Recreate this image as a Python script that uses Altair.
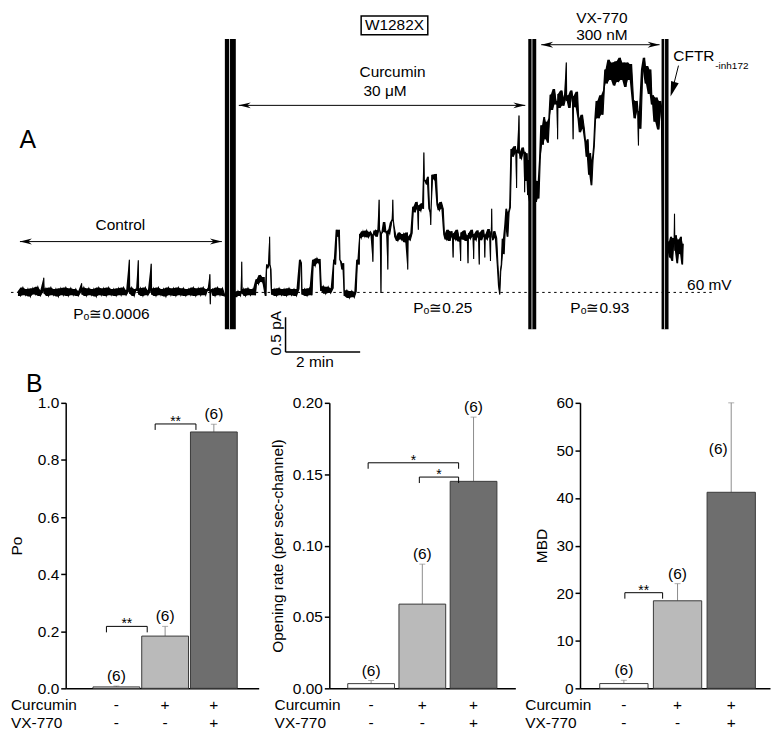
import altair as alt
import pandas as pd

FONT = "Liberation Sans"

# ---------------- Panel A: single-channel recording (time in s, current in pA) ----------------
trace_control = [
    (0, 0.02), (4, -0.05), (8, 0.07), (12, -0.04), (16, 0.05), (20, -0.06), (24, 0.06), (28, -0.03),
    (32, 0.08), (36, -0.05), (41, 0.03), (41.6, 0.21), (42.2, -0.02), (45, 0.06), (49, -0.05), (53, 0.07),
    (57, -0.04), (61, 0.05), (65, -0.06), (69, 0.06), (73, -0.04), (77, 0.07), (81, -0.05), (85, 0.06),
    (89, -0.04), (93, 0.05), (97, -0.05), (101.8, 0.02), (102.4, 0.13), (103, -0.03), (106, 0.07),
    (110, -0.05), (114, 0.06), (118, -0.04), (122, 0.05), (126, -0.06), (130, 0.07), (134, -0.04),
    (138, 0.06), (142, -0.05), (146, 0.07), (150, -0.04), (154, 0.05), (158, -0.05), (162, 0.06),
    (166, -0.04), (170, 0.07), (174, -0.04), (178.6, 0.03), (179.2, 0.47), (179.8, -0.02), (183, 0.07),
    (187, -0.05), (190, 0.05), (193, 0.02), (193.6, 0.46), (194.2, -0.03), (197, 0.06), (201, -0.05),
    (205, 0.07), (209, -0.04), (213.8, 0.03), (214.4, 0.41), (215, -0.03), (218, 0.06), (222, -0.05),
    (226, 0.07), (230, -0.04), (234, 0.05), (238, -0.06), (242, 0.07), (246, -0.04), (250, 0.06),
    (254, -0.05), (258, 0.07), (262, -0.04), (266, 0.06), (270, -0.05), (274, 0.05), (278, -0.04),
    (282, 0.07), (286, -0.05), (290, 0.06), (294, -0.04), (298, 0.07), (302, -0.04), (305, 0.05),
    (308.2, 0.02), (308.8, 0.26), (309.4, -0.17), (310, 0.02), (313, 0.05), (317, -0.05), (321, 0.07),
    (325, -0.04), (329, 0.06), (333, -0.05),
]
trace_curcumin = [
    (352, -0.06), (354, 0.02), (358, -0.05), (359.4, 0.02), (360, 0.44), (360.6, -0.02), (363, 0.05),
    (366, -0.05), (370, 0.06), (374, -0.04), (378, 0.05), (382, -0.04), (384, 0.19), (387, 0.12),
    (390, 0.25), (393, 0.15), (396, 0.22), (397, 0.0), (399, -0.05), (400, 0.40), (402, 0.35),
    (404.2, 0.40), (404.8, 0.80), (405.4, 0.40), (407, 0.33), (408, -0.03), (412, 0.05), (416, -0.05),
    (420, 0.06), (424, -0.04), (428, 0.05), (432, -0.05), (436, 0.06), (440, -0.04), (444, 0.05),
    (448, -0.05), (452, 0.05), (454, 0.47), (456, 0.42), (457, -0.03), (461, 0.05), (465, -0.05),
    (469, 0.06), (473, -0.04), (475, 0.47), (478, 0.38), (481, 0.49), (484, 0.42), (486, 0.48),
    (488, 0.02), (491, 0.09), (495, -0.02), (499, 0.08), (503, -0.01), (507, 0.06), (508, 0.47),
    (511, 0.40), (513, 0.90), (515, 0.80), (517, 0.90), (518, 0.47), (520, 0.44), (522, 0.33),
    (524, 0.42), (525, -0.05), (529, 0.03), (533, -0.08), (537, 0.02), (541, -0.07), (544, 0.01),
    (546, 0.47), (549, 0.40), (549.5, 0.84), (552, 0.78), (555, 0.88), (558, 0.80), (561, 0.89),
    (564, 0.79), (567, 0.87), (570.4, 0.82), (571, 0.44), (571.6, 0.84), (575, 0.89), (578, 0.80),
    (580.4, 0.90), (581, 1.33), (581.6, 0.90), (583.4, 0.85), (584, -0.01), (584.6, 0.84), (587, 0.87),
    (590, 1.01), (592, 0.86), (594.4, 0.88), (595, 0.33), (595.6, 0.90), (598, 0.84), (601, 1.00),
    (602.4, 1.05), (603, 1.33), (603.6, 1.05), (605, 0.95), (608, 0.80), (611, 0.74), (614, 0.86),
    (617, 0.76), (620, 0.84), (623, 0.72), (626.4, 0.86), (627, 0.33), (627.6, 0.80), (631, 0.75),
    (634, 0.85), (636, 1.23), (639, 1.15), (642, 1.30), (643.4, 1.20), (644, 0.90), (644.6, 1.25),
    (648, 1.17), (650, 1.28), (652.4, 1.20), (653, 2.01), (653.6, 1.60), (656, 1.61), (658, 1.55),
    (660, 1.66), (662, 1.20), (663.4, 1.15), (664, 0.97), (664.6, 1.22), (667, 1.69), (670, 1.62),
    (673, 1.70), (675, 1.26), (678, 1.18), (681, 1.30), (684, 1.20), (686, 0.83), (689, 0.76),
    (692, 0.90), (695, 0.74), (698, 0.88), (699.4, 0.80), (700, 0.50), (700.6, 0.85), (704, 0.76),
    (707, 0.90), (710, 0.73), (711.4, 0.80), (712, 0.45), (712.6, 0.86), (716, 0.76), (719, 0.89),
    (722, 0.74), (723.4, 0.82), (724, 0.42), (724.6, 0.85), (728, 0.77), (731, 0.90), (732.4, 0.80),
    (733, 0.48), (733.6, 0.84), (737, 0.75), (740, 0.89), (741.4, 0.80), (742, 0.40), (742.6, 0.86),
    (746, 0.75), (749, 0.90), (750.4, 0.80), (751, 0.50), (751.6, 0.83), (755, 0.76), (758, 0.91),
    (759.4, 0.80), (760, 0.45), (760.6, 0.86), (761.4, 0.85), (762, 1.20), (762.6, 0.80), (764, 0.75),
    (767, 0.88), (770, 0.78), (772, 0.40), (774, 0.10), (775, -0.03), (776.5, 0.30), (778, 0.40),
    (780, 0.77), (782, 0.55), (784, 0.95), (786, 1.20), (788, 0.80), (790, 1.15), (792, 1.22),
    (794, 2.06), (797, 1.95), (800, 2.10), (801.4, 2.00), (802, 1.50), (802.6, 2.05), (805.4, 2.00),
    (806, 2.54), (806.6, 2.00), (810, 1.92), (813, 2.08), (814.4, 2.00), (815, 1.44), (815.6, 2.02),
    (818, 1.60), (819, 2.00), (820, 1.40), (822, 1.90),
]
trace_vx770 = [
    (834, 1.30), (836, 1.60), (838, 1.35), (840, 1.90), (843, 2.40), (845, 2.12), (847, 2.52),
    (849, 2.20), (851, 2.45), (853, 2.15), (855, 2.50), (857, 2.84), (860, 2.62), (863, 2.92),
    (866, 2.70), (867.4, 2.75), (868, 2.20), (868.6, 2.85), (872, 2.65), (875, 2.90), (878, 2.68),
    (881.4, 2.80), (882, 3.30), (882.6, 2.75), (885, 2.83), (888, 2.65), (891, 2.90), (892.4, 2.80),
    (893, 2.20), (893.6, 2.82), (897, 2.66), (900, 2.88), (902, 2.49), (905, 2.30), (908, 2.55),
    (911, 2.35), (913, 2.16), (915, 1.95), (917, 2.20), (919, 1.69), (921, 2.00), (923, 1.54),
    (925, 1.90), (927, 2.10), (929, 2.49), (932, 2.75), (935, 2.50), (938, 2.83), (941, 2.55),
    (943, 2.90), (945, 3.20), (948, 3.00), (951, 3.34), (954, 3.05), (957, 3.30), (960, 2.97),
    (963, 3.32), (966, 3.02), (969, 3.37), (972, 3.05), (975, 3.30), (978, 2.95), (981, 3.30),
    (984, 3.05), (987, 3.28), (990, 2.77), (993, 2.50), (996, 2.75), (997.4, 2.60), (998, 2.11),
    (998.6, 2.60), (1002, 2.35), (1005, 3.20), (1008, 3.37), (1010, 3.00), (1013, 3.25), (1016, 2.85),
    (1018, 3.20), (1020, 2.70), (1022, 2.83), (1025, 2.45), (1028, 2.80), (1031, 2.34), (1034, 2.75),
    (1036, 2.60),
]
trace_inhibitor = [
    (1045, 0.60), (1047, 0.73), (1049, 0.50), (1051, 0.80), (1053, 0.45), (1055, 0.78), (1055.4, 0.70),
    (1056, 1.13), (1056.6, 0.60), (1059, 0.82), (1061, 0.42), (1063, 0.76), (1065, 0.55), (1067, 0.80),
    (1069, 0.40), (1070, 0.70),
]

# solution-exchange artefacts (time span, current span)
artifact_start = [332.8, 820.8, 1035.2]
artifact_end = [350.4, 833.6, 1046.4]
artifact_gap = [340.3, 826.7, 1040.0]
artifact_low = [-0.53, -0.53, -0.53]
artifact_high = [3.64, 3.64, 3.64]

# double-headed arrows (Control, Curcumin, VX-770)
arrow_from = [3.2, 355.2, 841.6]
arrow_to = [328.0, 816.0, 1032.0]
arrow_level = [0.73, 2.686, 3.557]

# annotation texts of panel A
ann_text = ["Control", "Curcumin", "30 \u03bcM", "W1282X", "VX-770", "300 nM", "CFTR",
            "P\u2092\u22450.0006", "P\u2092\u22450.25", "P\u2092\u22450.93", "60 mV", "2 min"]
ann_t = [164.8, 602.4, 590.4, 605.6, 939.2, 939.2, 1087.2, 150.4, 683.2, 936.0, 1112.0, 477.6]
ann_i = [0.971, 3.171, 2.893, 3.836, 3.936, 3.70, 3.393, -0.314, -0.229, -0.229, 0.107, -1.0]

box_t = [552.0, 659.2]
box_i = [3.70, 3.971]

scalebar_t = 430.4
scalebar_i = -0.857
scalebar_dt = 120.0   # 2 min
scalebar_di = 0.5     # 0.5 pA

baseline_t = [-11.2, 1116.8]
cftr_arrow_t = [1062.4, 1051.5]
cftr_arrow_i = [3.257, 2.87]
cftr_tip = (1049.6, 2.814)

# ---------------- Panel B data ----------------
groups = ["control", "curcumin", "curcumin_vx770"]
curcumin_row = ["-", "+", "+"]
vx770_row = ["-", "-", "+"]
n_cells = [6, 6, 6]
bar_colors = ["#ffffff", "#bababa", "#6e6e6e"]

po_mean = [0.005, 0.183, 0.898]
po_err = [0.008, 0.217, 0.925]
rate_mean = [0.0033, 0.059, 0.145]
rate_err = [0.0055, 0.087, 0.190]
mbd_mean = [1.0, 18.4, 41.2]
mbd_err = [1.7, 22.0, 60.0]

brackets_po = [("control", "curcumin", 0.217, "**"), ("curcumin", "curcumin_vx770", 0.926, "**")]
brackets_rate = [("control", "curcumin_vx770", 0.158, "*"), ("curcumin", "curcumin_vx770", 0.148, "*")]
brackets_mbd = [("control", "curcumin", 20.1, "**")]

# ================= Panel A chart =================
WA, HA = 708, 360
XS = alt.Scale(domain=[76.8, 1209.6], nice=False, zero=False)
YS = alt.Scale(domain=[-1.1, 4.0429], nice=False, zero=False)


def ax(f):
    return alt.X(f"{f}:Q", scale=XS, axis=None)


def ay(f):
    return alt.Y(f"{f}:Q", scale=YS, axis=None)


trace_df = pd.DataFrame(trace_control + trace_curcumin + trace_vx770 + trace_inhibitor, columns=["t", "i"])
base_df = pd.DataFrame({"t": [baseline_t[0]], "t2": [baseline_t[1]], "i": [0.0]})
art_df = pd.DataFrame({"t": artifact_start, "t2": artifact_end, "g": artifact_gap,
                       "lo": artifact_low, "hi": artifact_high})
arr_df = pd.DataFrame({"a": arrow_from, "b": arrow_to, "i": arrow_level})
ann_df = pd.DataFrame({"t": ann_t, "i": ann_i, "txt": ann_text})
box_df = pd.DataFrame({"t": [box_t[0]], "t2": [box_t[1]], "i": [box_i[0]], "i2": [box_i[1]]})
sb_df = pd.DataFrame({"t": [scalebar_t], "t2": [scalebar_t + scalebar_dt],
                      "i": [scalebar_i], "i2": [scalebar_i + scalebar_di]})
cf_df = pd.DataFrame({"t": [cftr_arrow_t[0]], "t2": [cftr_arrow_t[1]],
                      "i": [cftr_arrow_i[0]], "i2": [cftr_arrow_i[1]]})
tip_df = pd.DataFrame({"t": [cftr_tip[0]], "i": [cftr_tip[1]]})

LEFT_HEAD = "M0,0L2,-0.5L1.4,0L2,0.5Z"
RIGHT_HEAD = "M0,0L-2,-0.5L-1.4,0L-2,0.5Z"
FAT_HEAD = "M0,0L3,-0.8L3,0.8Z"

txt_kw = dict(font=FONT, fontSize=15.5, color="black", align="center", baseline="middle")

trace_base = alt.Chart(trace_df)
# noise envelope: min / max of each pair of consecutive samples
trace_band = trace_base.transform_window(
    lo="min(i)", hi="max(i)", frame=[0, 1], sort=[alt.SortField("t")]
).mark_area(color="black", opacity=1).encode(x=ax("t"), y=ay("lo"), y2="hi:Q")

panel_a = alt.layer(
    alt.Chart(base_df).mark_rule(color="black", strokeWidth=1, strokeDash=[2.5, 3.5]).encode(
        x=ax("t"), x2="t2:Q", y=ay("i")),
    trace_band,
    trace_base.mark_line(color="black", strokeWidth=1.1).encode(x=ax("t"), y=ay("i")),
    alt.Chart(art_df).mark_rect(color="black").encode(x=ax("t"), x2="t2:Q", y=ay("lo"), y2="hi:Q"),
    alt.Chart(art_df).mark_rule(color="white", strokeWidth=0.8).encode(x=ax("g"), y=ay("lo"), y2="hi:Q"),
    alt.Chart(arr_df).mark_rule(color="black", strokeWidth=1).encode(x=ax("a"), x2="b:Q", y=ay("i")),
    alt.Chart(arr_df).mark_point(shape=LEFT_HEAD, filled=True, size=144, color="black",
                                 opacity=1, strokeWidth=0).encode(x=ax("a"), y=ay("i")),
    alt.Chart(arr_df).mark_point(shape=RIGHT_HEAD, filled=True, size=144, color="black",
                                 opacity=1, strokeWidth=0).encode(x=ax("b"), y=ay("i")),
    alt.Chart(box_df).mark_rect(fill="white", stroke="black", strokeWidth=1.5).encode(
        x=ax("t"), x2="t2:Q", y=ay("i"), y2="i2:Q"),
    alt.Chart(sb_df).mark_rule(color="black", strokeWidth=1.5).encode(x=ax("t"), y=ay("i"), y2="i2:Q"),
    alt.Chart(sb_df).mark_rule(color="black", strokeWidth=1.5).encode(x=ax("t"), x2="t2:Q", y=ay("i")),
    alt.Chart(cf_df).mark_rule(color="black", strokeWidth=1).encode(
        x=ax("t"), x2="t2:Q", y=ay("i"), y2="i2:Q"),
    alt.Chart(tip_df).mark_point(shape=FAT_HEAD, filled=True, size=100, angle=287, color="black",
                                 opacity=1, strokeWidth=0).encode(x=ax("t"), y=ay("i")),
    alt.Chart(ann_df).mark_text(**txt_kw).encode(x=ax("t"), y=ay("i"), text="txt:N"),
    alt.Chart(pd.DataFrame({"t": [1121.6], "i": [3.257], "txt": ["-inh172"]})).mark_text(
        font=FONT, fontSize=10, color="black", align="left", baseline="middle").encode(
        x=ax("t"), y=ay("i"), text="txt:N"),
    alt.Chart(pd.DataFrame({"t": [414.4], "i": [-0.586], "txt": ["0.5 pA"]})).mark_text(
        angle=270, **txt_kw).encode(x=ax("t"), y=ay("i"), text="txt:N"),
    alt.Chart(pd.DataFrame({"t": [16.0], "i": [2.193], "txt": ["A"]})).mark_text(
        font=FONT, fontSize=25, color="black", align="center", baseline="middle").encode(
        x=ax("t"), y=ay("i"), text="txt:N"),
).properties(width=WA, height=HA)

# ================= Panel B charts =================
HB = 287


def bar_panel(mean, err, label_at, label_dx, ymax, ticks, fmt, ytitle, title_pad,
              W, pi, po, al, brackets, off, letter=False):
    df = pd.DataFrame({"g": groups, "mean": mean, "err": err, "lab": label_at,
                       "cur": curcumin_row, "vx": vx770_row, "n": [f"({k})" for k in n_cells]})
    xs = alt.Scale(domain=groups, paddingInner=pi, paddingOuter=po, align=al)
    xax = alt.Axis(labels=False, ticks=False, title=None, domainWidth=1.5)

    def X(f):
        return alt.X(f"{f}:N", scale=xs, axis=xax, title=None)

    ys = alt.Scale(domain=[0, ymax], nice=False, zero=True)
    yax = alt.Axis(values=ticks, format=fmt, titlePadding=title_pad)

    def Y(f):
        return alt.Y(f"{f}:Q", scale=ys, axis=yax, title=ytitle)

    step = W / (3 - pi + 2 * po)
    base = alt.Chart(df)
    layers = [
        base.mark_rule(color="#8c8c8c", strokeWidth=1).encode(x=X("g"), y=Y("mean"), y2="err:Q"),
        base.mark_tick(color="#8c8c8c", size=6, thickness=1).encode(x=X("g"), y=Y("err")),
        base.mark_bar(stroke="#3a3a3a", strokeWidth=1).encode(
            x=X("g"), y=Y("mean"),
            fill=alt.Fill("g:N", scale=alt.Scale(domain=groups, range=bar_colors), legend=None)),
    ]
    for k in range(3):
        layers.append(
            alt.Chart(df.iloc[[k]]).mark_text(font=FONT, fontSize=15.5, color="black", baseline="bottom",
                                              dy=-2, dx=label_dx[k]).encode(
                x=X("g"), y=Y("lab"), text="n:N"))
    for a, b, top, star in brackets:
        bdf = pd.DataFrame({"a": [a], "b": [b], "top": [top], "s": [star]})
        kdiff = groups.index(b) - groups.index(a)
        bc = alt.Chart(bdf)
        layers += [
            bc.mark_rule(color="black", strokeWidth=1, xOffset=off[0], x2Offset=off[1]).encode(
                x=X("a"), x2="b:N", y=Y("top")),
            bc.mark_rule(color="black", strokeWidth=1, xOffset=off[0], y2Offset=6).encode(
                x=X("a"), y=Y("top"), y2="top:Q"),
            bc.mark_rule(color="black", strokeWidth=1, xOffset=off[1], y2Offset=6).encode(
                x=X("b"), y=Y("top"), y2="top:Q"),
            bc.mark_text(font=FONT, fontSize=14, color="black", baseline="alphabetic", dy=2,
                         dx=(kdiff * step + off[0] + off[1]) / 2).encode(
                x=X("a"), y=Y("top"), text="s:N"),
        ]
    layers += [
        base.mark_text(font=FONT, fontSize=15.5, color="black", baseline="middle").encode(
            x=X("g"), y=alt.value(HB + 17), text="cur:N"),
        base.mark_text(font=FONT, fontSize=15.5, color="black", baseline="middle").encode(
            x=X("g"), y=alt.value(HB + 35), text="vx:N"),
        alt.Chart(pd.DataFrame({"r": ["Curcumin"]})).mark_text(
            font=FONT, fontSize=15.5, color="black", align="left", baseline="middle").encode(
            x=alt.value(-55), y=alt.value(HB + 17), text="r:N"),
        alt.Chart(pd.DataFrame({"r": ["VX-770"]})).mark_text(
            font=FONT, fontSize=15.5, color="black", align="left", baseline="middle").encode(
            x=alt.value(-55), y=alt.value(HB + 35), text="r:N"),
    ]
    if letter:
        layers.append(alt.Chart(pd.DataFrame({"r": ["B"]})).mark_text(
            font=FONT, fontSize=25, color="black", align="left", baseline="middle").encode(
            x=alt.value(-40), y=alt.value(-19), text="r:N"))
    return alt.layer(*layers).properties(width=W, height=HB)


c1 = bar_panel(po_mean, po_err, po_err, [0, 0, 0], 1.0, [0, 0.2, 0.4, 0.6, 0.8, 1.0], ".1f", "Po", 13,
               194, 0.04, 0.5, 0.56, brackets_po, (-10, -18), letter=True)
c2 = bar_panel(rate_mean, rate_err, rate_err, [0, 0, 0], 0.2, [0, 0.05, 0.10, 0.15, 0.20], ".2f",
               "Opening rate (per sec-channel)", 7, 187, 0.087, 0.36, 0.5, brackets_rate, (-3, -15))
c3 = bar_panel(mbd_mean, mbd_err, [1.7, 22.0, 48.3], [0, 0, -13], 60, [0, 10, 20, 30, 40, 50, 60], "d",
               "MBD", 6, 191, 0.1, 0.32, 0.574, brackets_mbd, (1, -15))

row_b = alt.hconcat(c1, alt.hconcat(c2, c3, spacing=65, bounds="flush"), spacing=71, bounds="flush")

chart = alt.vconcat(panel_a, row_b, spacing=34, bounds="flush").properties(padding=0).configure_view(
    stroke="transparent"
).configure_axis(
    labelFont=FONT, labelFontSize=15.5, labelColor="black", titleFont=FONT, titleFontSize=15.5,
    titleFontWeight="normal", titleColor="black", domainColor="black", tickColor="black",
    domainWidth=1.5, tickWidth=1.5, tickSize=5, grid=False, labelPadding=2,
)

chart.save("out.html", embed_options={"renderer": "svg", "actions": False})
